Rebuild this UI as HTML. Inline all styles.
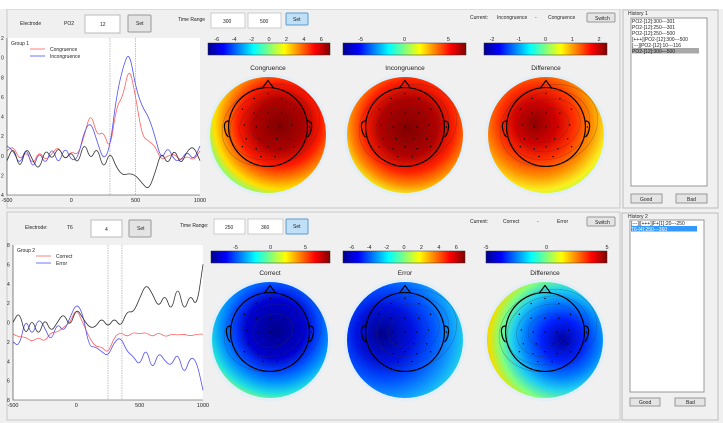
<!DOCTYPE html>
<html><head><meta charset="utf-8"><style>
html,body{margin:0;padding:0;background:#f0f0f0;}
svg{display:block;font-family:"Liberation Sans",sans-serif;}
</style></head><body>
<svg id="ui" width="723" height="423" viewBox="0 0 723 423" xmlns="http://www.w3.org/2000/svg">
<defs>
<linearGradient id="jet" x1="0" x2="1" y1="0" y2="0">
<stop offset="0" stop-color="#00008f"/><stop offset="0.125" stop-color="#0000ff"/><stop offset="0.375" stop-color="#00ffff"/><stop offset="0.625" stop-color="#ffff00"/><stop offset="0.875" stop-color="#ff0000"/><stop offset="1" stop-color="#800000"/>
</linearGradient>
<radialGradient id="g1" cx="0.6" cy="0.4" r="0.72" fx="0.6" fy="0.42"><stop offset="0" stop-color="#800000"/><stop offset="0.3" stop-color="#b00000"/><stop offset="0.5" stop-color="#ff1a00"/><stop offset="0.65" stop-color="#ff8000"/><stop offset="0.78" stop-color="#ffe000"/><stop offset="0.9" stop-color="#80ff80"/><stop offset="1" stop-color="#20d0ff"/></radialGradient>
<radialGradient id="g2" cx="0.55" cy="0.4" r="0.76" fx="0.52" fy="0.45"><stop offset="0" stop-color="#800000"/><stop offset="0.32" stop-color="#b00000"/><stop offset="0.52" stop-color="#ff2000"/><stop offset="0.68" stop-color="#ff8c00"/><stop offset="0.8" stop-color="#f0f020"/><stop offset="0.92" stop-color="#80ff80"/><stop offset="1" stop-color="#30e0e0"/></radialGradient>
<radialGradient id="g3" cx="0.45" cy="0.38" r="0.72" fx="0.4" fy="0.4"><stop offset="0" stop-color="#900000"/><stop offset="0.25" stop-color="#d00000"/><stop offset="0.45" stop-color="#ff3000"/><stop offset="0.65" stop-color="#ff9000"/><stop offset="0.82" stop-color="#f8f020"/><stop offset="1" stop-color="#90ff60"/></radialGradient>
<radialGradient id="g4" cx="0.55" cy="0.38" r="0.72" fx="0.55" fy="0.42"><stop offset="0" stop-color="#00008a"/><stop offset="0.35" stop-color="#0000d0"/><stop offset="0.5" stop-color="#0040ff"/><stop offset="0.65" stop-color="#0090ff"/><stop offset="0.8" stop-color="#20e0e0"/><stop offset="0.92" stop-color="#a0ff60"/><stop offset="1" stop-color="#f0f000"/></radialGradient>
<radialGradient id="g5" cx="0.38" cy="0.45" r="0.8" fx="0.3" fy="0.45"><stop offset="0" stop-color="#00008a"/><stop offset="0.3" stop-color="#0010e0"/><stop offset="0.5" stop-color="#0050ff"/><stop offset="0.7" stop-color="#10a0ff"/><stop offset="0.85" stop-color="#20e0e0"/><stop offset="1" stop-color="#60ff90"/></radialGradient>
<radialGradient id="g6" cx="0.65" cy="0.5" r="0.72" fx="0.65" fy="0.5"><stop offset="0" stop-color="#0000a0"/><stop offset="0.25" stop-color="#0020ff"/><stop offset="0.45" stop-color="#0080ff"/><stop offset="0.6" stop-color="#20d0f0"/><stop offset="0.75" stop-color="#80ff80"/><stop offset="0.88" stop-color="#f0e000"/><stop offset="1" stop-color="#ff8000"/></radialGradient>
</defs>

<rect x="7" y="9" width="613" height="199" fill="#f0f0f0" stroke="#c8c8c8"/>
<rect x="7" y="212" width="613" height="208" fill="#f0f0f0" stroke="#c8c8c8"/>
<rect x="0" y="0" width="723" height="9" fill="#ffffff"/>

<g font-size="5" fill="#222">
<text x="20" y="25">Electrode</text>
<text x="64" y="25">PO2</text>
<rect x="85" y="15" width="35" height="18" fill="#fff" stroke="#bbb"/>
<text x="100" y="26">12</text>
<rect x="128" y="15" width="23" height="17" fill="#e4e4e4" stroke="#999" rx="1"/>
<text x="136" y="25">Set</text>
<text x="178" y="21">Time Range</text>
<rect x="211" y="13" width="34" height="15" fill="#fff" stroke="#ccc"/>
<text x="223" y="23">300</text>
<rect x="248" y="13" width="33" height="15" fill="#fff" stroke="#ccc"/>
<text x="260" y="23">500</text>
<rect x="286" y="13" width="22" height="12" fill="#bfe0f6" stroke="#5a9bd0" rx="1"/>
<text x="293" y="21">Set</text>
<text x="470" y="19">Current:</text>
<text x="497" y="19">Incongruence</text>
<text x="535" y="19">-</text>
<text x="548" y="19">Congruence</text>
<rect x="587" y="13" width="28" height="9" fill="#e4e4e4" stroke="#999" rx="1"/>
<text x="595" y="20">Switch</text>

<text x="25" y="229">Electrode:</text>
<text x="67" y="229">T6</text>
<rect x="91" y="220" width="31" height="17" fill="#fff" stroke="#bbb"/>
<text x="105" y="231">4</text>
<rect x="129" y="220" width="22" height="17" fill="#e4e4e4" stroke="#999" rx="1"/>
<text x="137" y="230">Set</text>
<text x="180" y="227">Time Range:</text>
<rect x="214" y="219" width="31" height="15" fill="#fff" stroke="#ccc"/>
<text x="225" y="229">250</text>
<rect x="248" y="219" width="35" height="15" fill="#fff" stroke="#ccc"/>
<text x="261" y="229">360</text>
<rect x="286" y="219" width="22" height="15" fill="#bfe0f6" stroke="#5a9bd0" rx="1"/>
<text x="293" y="228">Set</text>
<text x="470" y="223">Current:</text>
<text x="503" y="223">Correct</text>
<text x="537" y="223">-</text>
<text x="557" y="223">Error</text>
<rect x="587" y="217" width="28" height="9" fill="#e4e4e4" stroke="#999" rx="1"/>
<text x="595" y="224">Switch</text>

<rect x="623" y="10" width="95" height="198" fill="none" stroke="#bbb"/>
<text x="628" y="15">History 1</text>
<rect x="631" y="18" width="76" height="168" fill="#fff" stroke="#999"/>
<rect x="632" y="48" width="67" height="5.5" fill="#a8a8a8"/>
<text x="632" y="23">PO2-[12]:300---301</text>
<text x="632" y="29">PO2-[12]:250---301</text>
<text x="632" y="35">PO2-[12]:250---500</text>
<text x="632" y="41">[+++]|PO2-[12]:300---500</text>
<text x="632" y="47">[---]|PO2-[12]:10---116</text>
<text x="632" y="53">PO2-[12]:300---500</text>
<rect x="631" y="194" width="31" height="9" fill="#e4e4e4" stroke="#999"/>
<text x="640" y="201">Good</text>
<rect x="676" y="194" width="31" height="9" fill="#e4e4e4" stroke="#999"/>
<text x="687" y="201">Bad</text>

<rect x="622" y="213" width="96" height="207" fill="none" stroke="#bbb"/>
<text x="628" y="218">History 2</text>
<rect x="630" y="220" width="74" height="172" fill="#fff" stroke="#999"/>
<rect x="631" y="226" width="66" height="5.5" fill="#3399ff"/>
<text x="631" y="225">[---]|[+++]|F+[1]:20---250</text>
<text x="631" y="231" fill="#fff">T6-[4]:250---360</text>
<rect x="630" y="398" width="30" height="8" fill="#e4e4e4" stroke="#999"/>
<text x="639" y="404">Good</text>
<rect x="675" y="398" width="30" height="8" fill="#e4e4e4" stroke="#999"/>
<text x="686" y="404">Bad</text>
</g>
<g id="dyn"></g>
</svg>
<script>
const times = [-500,-450,-400,-350,-300,-250,-200,-150,-100,-50,0,50,100,150,200,250,300,350,400,450,500,550,600,650,700,750,800,850,900,950,1000];
const congruence = [0.5,1,-0.5,0.5,-1,0.5,-0.5,0.2,1,-0.5,0.5,0,2,4.5,2,2.5,0.5,5,6,9.2,6,2,1.5,1,-0.5,0,0.2,-0.5,0,-0.5,0.5];
const incongruence = [1,0.5,-1,1,-1.5,0.5,-1,1,-1,1,-0.5,-0.3,2.5,3.5,1.5,-0.5,0.8,6,9,10.7,7,5,4,2,-0.5,1,-0.5,-0.5,0.5,-0.5,1];
const diff1 = [-0.5,1,-1.5,1,-0.5,-1.5,0.8,-0.5,1,-0.5,0.5,-1,1.5,-0.5,1,-1.5,0.5,-1.2,-2,-1.8,-2,-2.8,-3.5,-1.8,0.5,-1,0.8,-1,0.5,1,-0.5];
const correct = [-1.2,-1.5,-1.5,-2,-1.5,-2,-1,-1,-0.5,0,1.5,0,-1.5,-2.5,-2.5,-3.2,-1.5,-1,-1.5,-1,-1.2,-1,-1.5,-1,-1.5,-1.2,-1.3,-1.2,-1.4,-1.2,-1.2];
const errorSeries = [-2,-2.5,0.5,-1.5,0.5,-0.5,-2,0,-1,0.5,2,1,-2.5,-2.5,-3,-3.5,-2,-1.5,-3,-3.5,-4.5,-2.5,-5,-3,-4,-4.5,-3,-5.5,-3.5,-4,-7];
const diff2 = [0,1.2,-1.5,0.5,-1.5,0.5,-1,0,1,-0.5,1.5,0.5,-0.5,-0.5,0.5,-0.5,0.5,-0.5,1.2,1,2.5,4,3,1.5,3,1,4,1,3,1.5,6];
const yTicks1 = [12,10,8,6,4,2,0,-2,-4];
const yTicks2 = [8,6,4,2,0,-2,-4,-6,-8];
const xTicks = [-500,0,500,1000];
const cbTicks = [[-6,-4,-2,0,2,4,6],[-5,0,5],[-2,-1,0,1,2],[-5,0,5],[-6,-4,-2,0,2,4,6],[-5,0,5]];
const cbRange = [[-7,7],[-7,7],[-2.3,2.3],[-8.5,8.5],[-7,7],[-5,5]];
const topoTitles = ["Congruence","Incongruence","Difference","Correct","Error","Difference"];

const NS="http://www.w3.org/2000/svg", root=document.getElementById('dyn');
function mk(tag,attrs,parent){const e=document.createElementNS(NS,tag);for(const k in attrs)e.setAttribute(k,attrs[k]);(parent||root).appendChild(e);return e;}

function chart(P,series,colors,names,yT,vlines,grp,legendNames){
  const g=mk('g',{});
  
  
  const bg=mk('rect',{x:P.x0,y:P.y0,width:P.x1-P.x0,height:P.y1-P.y0,fill:'#fff'},g);
  
  
  const xs=t=>P.x0+(t-(-500))/1500*(P.x1-P.x0);
  const ys=v=>P.y0+(yT[0]-v)/(yT[0]-yT[yT.length-1])*(P.y1-P.y0);
  vlines.forEach(t=>{const l=mk('line',{x1:xs(t),x2:xs(t),y1:P.y0,y2:P.y1,stroke:'#999','stroke-width':0.6,'stroke-dasharray':'1.5,1'},g);
    
    });
  series.forEach((s,i)=>{
    const pts=s.map((v,j)=>[xs(times[j]),ys(v)]);
    let d='M'+pts[0][0]+','+pts[0][1];
    for(let j=1;j<pts.length;j++){const mx=(pts[j-1][0]+pts[j][0])/2,my=(pts[j-1][1]+pts[j][1])/2;d+=' Q'+pts[j-1][0]+','+pts[j-1][1]+' '+mx+','+my;}
    d+=' L'+pts[pts.length-1][0]+','+pts[pts.length-1][1];
    const p=mk('path',{d:d,fill:'none',stroke:colors[i],'stroke-width':0.8},g);
    
    
  });
  const ax=mk('path',{d:`M${P.x0},${P.y0} V${P.y1} H${P.x1}`,fill:'none',stroke:'#333','stroke-width':0.6},g);
  
  
  yT.forEach(v=>{const t=mk('text',{x:P.x0-6,y:ys(v)+2,'font-size':5,fill:'#222'},g);t.textContent=String(Math.abs(v)>=10?Math.abs(v)%10:Math.abs(v));
    
    });
  xTicks.forEach(v=>{const t=mk('text',{x:xs(v),y:P.y1+7,'font-size':5.5,fill:'#222','text-anchor':'middle'},g);t.textContent=String(v);
    
    });
  const gl=mk('text',{x:P.x0+4,y:P.y0+7,'font-size':5,fill:'#222'},g);gl.textContent=grp==='group1'?'Group 1':'Group 2';
  
  
  legendNames.forEach((n,i)=>{const y=P.y0+11+i*7;
    const l=mk('line',{x1:P.x0+23,x2:P.x0+38,y1:y,y2:y,stroke:colors[i],'stroke-width':0.8},g);
    
    
    const t=mk('text',{x:P.x0+43,y:y+2,'font-size':5,fill:'#222'},g);t.textContent=n;
    
    });
}
chart({x0:7,x1:200,y0:38,y1:195},[congruence,incongruence,diff1],['#ff6060','#5050ff','#333'],['congruence-line','incongruence-line','difference-line-1'],yTicks1,[300,500],'group1',['Congruence','Incongruence']);
chart({x0:13,x1:203,y0:245,y1:400},[correct,errorSeries,diff2],['#ff6060','#5050ff','#333'],['correct-line','error-line','difference-line-2'],yTicks2,[250,360],'group2',['Correct','Error']);

const cbBoxes=[[208,43,122],[343,43,123],[484,43,123],[211,251,119],[343,251,122],[486,251,121]];
const topoC=[[268,135],[405,135],[546,135],[270,340],[405,340],[545,340]];
const elec=[[0,-0.85],[-0.35,-0.72],[0.35,-0.72],[-0.65,-0.45],[-0.35,-0.35],[0,-0.35],[0.35,-0.35],[0.65,-0.45],[-0.6,-0.05],[-0.3,0],[0,0],[0.3,0],[0.6,-0.05],[-0.55,0.3],[-0.22,0.3],[0.22,0.3],[0.55,0.3],[-0.65,0.5],[-0.3,0.55],[0,0.5],[0.3,0.55],[0.65,0.5],[-0.18,0.75],[0.18,0.75],[1.05,0]];
for(let k=0;k<6;k++){
  const [bx,by,bw]=cbBoxes[k];
  const cb=mk('rect',{x:bx,y:by,width:bw,height:12,fill:'url(#jet)',stroke:'#333','stroke-width':0.5});
  
  
  const [a,b]=cbRange[k];
  cbTicks[k].forEach(v=>{const x=bx+(v-a)/(b-a)*bw;
    const t=mk('text',{x:x,y:by-2,'font-size':5.5,fill:'#222','text-anchor':'middle'});t.textContent=String(v);
    
    });
  const [cx,cy]=topoC[k],r=58;
  const tt=mk('text',{x:cx,y:cy-65,'font-size':6.5,fill:'#222','text-anchor':'middle'});tt.textContent=topoTitles[k];
  
  
  const h=mk('circle',{cx:cx,cy:cy,r:r+3,fill:'#e2eef8'});
  
  
  const c=mk('circle',{cx:cx,cy:cy,r:r,fill:'url(#g'+(k+1)+')'});
  
  
  [0.35,0.55,0.72,0.86].forEach(f=>{const e=mk('ellipse',{cx:cx+6,cy:cy-8,rx:r*f,ry:r*f*0.8,fill:'none',stroke:'#333','stroke-opacity':0.45,'stroke-width':0.5,transform:`rotate(-20 ${cx} ${cy})`});
    
    });
  const hr=r*0.68;
  const head=mk('path',{d:`M${cx-hr},${cy-8} a${hr},${hr} 0 1,0 ${2*hr},0 a${hr},${hr} 0 1,0 ${-2*hr},0 M${cx-6},${cy-8-hr+1} L${cx},${cy-8-hr-7} L${cx+6},${cy-8-hr+1} M${cx-hr},${cy-14} q-5,0 -4,7 t4,9 M${cx+hr},${cy-14} q5,0 4,7 t-4,9`,fill:'none',stroke:'#000','stroke-width':1.2});
  
  
  elec.forEach(([ex,ey])=>{const d=mk('circle',{cx:cx+ex*hr,cy:cy-8+ey*hr,r:0.7,fill:'#000'});
    
    });
}
</script>
</body></html>
